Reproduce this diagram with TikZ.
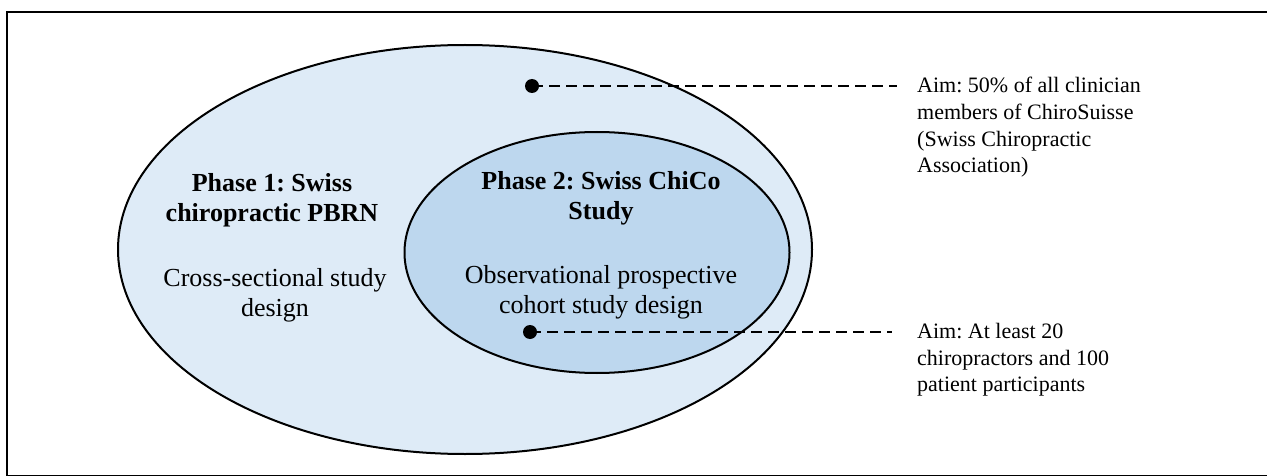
\documentclass[tikz,border=0pt]{standalone}
\usepackage{fontspec}
\setmainfont{Liberation Serif}
\usetikzlibrary{shapes.geometric}
\definecolor{outerblue}{HTML}{DEEBF7}
\definecolor{innerblue}{HTML}{BDD7EE}
\frenchspacing
\begin{document}
\begin{tikzpicture}[x=1pt,y=-1pt,
  bubble/.style={ellipse, draw=black, line width=2pt, inner sep=0pt},
  phasetitle/.style={align=center, font=\fontsize{26}{30}\selectfont\bfseries, inner sep=0pt},
  phasedesc/.style={align=center, font=\fontsize{26}{30}\selectfont, inner sep=0pt},
  aimtext/.style={align=left, font=\fontsize{22}{26.7}\selectfont, inner ysep=0pt, anchor=north west},
  dotnode/.style={circle, fill=black, minimum size=14pt, inner sep=0pt},
  dashline/.style={line width=2.6pt, dash pattern=on 11pt off 6pt}]
\useasboundingbox (0,0) rectangle (1267,476);
\node[draw=black, line width=2.4pt, minimum width=1275pt, minimum height=463.5pt, anchor=north west, inner sep=0pt] (frame) at (5.5,11) {};
\node[bubble, fill=outerblue, minimum width=694pt, minimum height=409pt] (outer) at (465,249.5) {};
\node[bubble, fill=innerblue, minimum width=385pt, minimum height=241pt] (inner) at (597,252.5) {};
\node[phasetitle] (t1) at (272,200) {Phase 1: Swiss\\chiropractic PBRN};
\node[phasedesc] (s1) at (275,295) {Cross-sectional study\\design};
\node[phasetitle] (t2) at (601,198) {Phase 2: Swiss ChiCo\\Study};
\node[phasedesc] (s2) at (601,292) {Observational prospective\\cohort study design};
\node[dotnode] (d1) at (532,86) {};
\node[dotnode] (d2) at (530,332) {};
\node[aimtext, inner xsep=20pt] (a1) at (897,77) {Aim: 50\% of all clinician\\members of ChiroSuisse\\(Swiss Chiropractic\\Association)};
\node[aimtext, inner xsep=25pt] (a2) at (892,323) {Aim: At least 20\\chiropractors and 100\\patient participants};
\draw[dashline] (d1.center) -- (d1 -| a1.west);
\draw[dashline] (d2.center) -- (d2 -| a2.west);
\end{tikzpicture}
\end{document}
